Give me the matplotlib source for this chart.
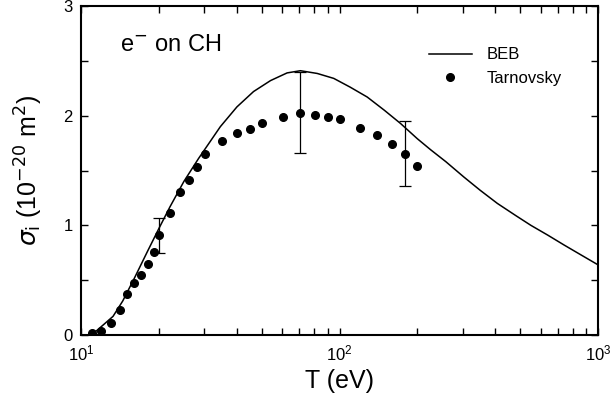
import numpy as np
import matplotlib
matplotlib.use("Agg")
import matplotlib.pyplot as plt
from matplotlib.ticker import LogLocator, MultipleLocator, NullFormatter

# BEB curve
beb_T = [10.9, 11.5, 12.3, 13.3, 14.5, 16.1, 18.1, 20.1, 22.1, 25.0, 28.5, 34.6,
         40.1, 46.5, 54.1, 62.7, 70.6, 82.0, 95.0, 110, 128, 149, 172, 200,
         225, 258, 303, 350, 408, 480, 550, 640, 740, 860, 1000]
beb_sigma = [0.0, 0.04, 0.10, 0.17, 0.31, 0.52, 0.765, 0.98, 1.17, 1.40, 1.61, 1.90,
             2.08, 2.22, 2.32, 2.39, 2.41, 2.385, 2.34, 2.26, 2.17, 2.05, 1.93, 1.79,
             1.69, 1.58, 1.44, 1.32, 1.20, 1.09, 1.00, 0.91, 0.82, 0.73, 0.64]

# Tarnovsky measurements
tar_T = [11.0, 12.0, 13.1, 14.1, 15.1, 16.1, 17.1, 18.1, 19.2, 20.1, 22.1, 24.2,
         26.1, 28.1, 30.2, 35.2, 40.3, 45.2, 50.1, 60.2, 70.2, 80.5, 90.1, 100,
         120, 140, 160, 180, 200]
tar_sigma = [0.02, 0.04, 0.11, 0.23, 0.37, 0.47, 0.55, 0.65, 0.76, 0.91, 1.11, 1.30,
             1.41, 1.53, 1.65, 1.77, 1.84, 1.88, 1.93, 1.99, 2.02, 2.01, 1.99, 1.97,
             1.89, 1.82, 1.74, 1.65, 1.54]

# error bars on a few points
err_T = [20.1, 70.2, 180]
err_sigma = [0.91, 2.02, 1.65]
err_low = [0.16, 0.36, 0.29]
err_high = [0.16, 0.38, 0.30]

plt.rcParams['font.family'] = ['Liberation Sans', 'DejaVu Sans']

fig = plt.figure(figsize=(6.11, 4.01), dpi=100)
ax = fig.add_axes([0.1326, 0.1646, 0.9787 - 0.1326, 0.985 - 0.1646])

ax.plot(beb_T, beb_sigma, color='black', lw=1.1, label='BEB')
ax.plot(tar_T, tar_sigma, 'o', color='black', ms=5.5, label='Tarnovsky')
ax.errorbar(err_T, err_sigma, yerr=[err_low, err_high], fmt='none',
            ecolor='black', elinewidth=0.9, capsize=4.5, capthick=0.9)

ax.set_xscale('log')
ax.set_xlim(10, 1000)
ax.set_ylim(0, 3)
ax.xaxis.set_major_locator(LogLocator(base=10))
ax.xaxis.set_minor_locator(LogLocator(base=10, subs=np.arange(2, 10)))
ax.xaxis.set_minor_formatter(NullFormatter())
ax.yaxis.set_major_locator(MultipleLocator(1))
ax.yaxis.set_minor_locator(MultipleLocator(0.5))

ax.tick_params(which='both', direction='in', top=True, right=True,
               length=5, width=1, labelsize=12, pad=6)
for s in ax.spines.values():
    s.set_linewidth(1.5)

ax.set_xlabel('T (eV)', fontsize=18, labelpad=4)
ax.set_ylabel(r'$\sigma_\mathrm{i}$ (10$^{-20}$ m$^2$)', fontsize=18, labelpad=13)

ax.text(0.075, 0.88, r'e$^{-}$ on CH', transform=ax.transAxes, fontsize=17,
        va='center', ha='left')

ax.legend(loc='upper right', bbox_to_anchor=(0.96, 0.92), frameon=False,
          fontsize=12, handlelength=2.6, handletextpad=0.9, labelspacing=0.5)

fig.savefig('out.png', dpi=100)
